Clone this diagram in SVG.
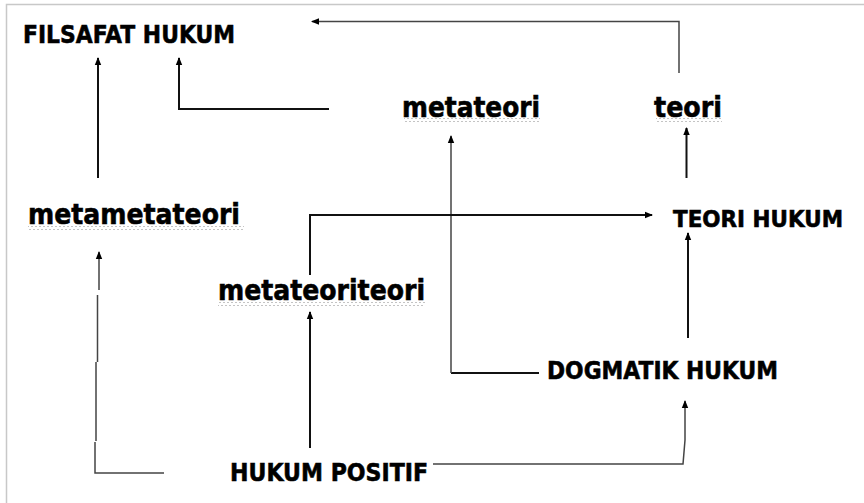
<svg xmlns="http://www.w3.org/2000/svg" width="864" height="503" viewBox="0 0 864 503">
<style>
.lbl{font-family:"DejaVu Sans","Liberation Sans",sans-serif;font-weight:bold;fill:#000;stroke:#000;stroke-width:0.6}
.cap{font-size:25px}
.low{font-size:28px}
.conn{fill:none;stroke:#111;stroke-width:2}
.thin{fill:none;stroke:#444;stroke-width:1.5}
</style>
<defs>
<marker id="ah" viewBox="0 0 8 8" refX="7" refY="4" markerWidth="8" markerHeight="8" markerUnits="userSpaceOnUse" orient="auto">
<path d="M0,0.8 L8,4 L0,7.2 Z" fill="#000"/>
</marker>
<pattern id="sq" width="4" height="4" patternUnits="userSpaceOnUse">
<path d="M0,3 L2,1 L4,3" fill="none" stroke="#aaa" stroke-width="0.7"/>
</pattern>
</defs>
<rect width="864" height="503" fill="#fff"/>
<path d="M6.5,503 V4.5 H864" fill="none" stroke="#c8c8c8" stroke-width="1.5"/>

<g id="connectors">
<path class="thin" d="M679,73 V21.5 H312" marker-end="url(#ah)"/>
<path class="conn" d="M329,109 H179 V58" marker-end="url(#ah)"/>
<path class="conn" d="M98,178 V58" marker-end="url(#ah)"/>
<path class="conn" d="M451,373 H539"/>
<path class="thin" d="M451,373 V136" marker-end="url(#ah)"/>
<path class="conn" d="M686.5,178 V128" marker-end="url(#ah)"/>
<path class="conn" d="M688,338 V233" marker-end="url(#ah)"/>
<path class="conn" d="M310,275 V215 H652" marker-end="url(#ah)"/>
<path class="conn" d="M310,448 V312" marker-end="url(#ah)"/>
<path class="thin" d="M433,464 H683 L685,440 V401" marker-end="url(#ah)"/>
<path class="thin" d="M164,473 H95 V442 M96,441 V362 M97.5,362 V295 M99,290 V252" marker-end="url(#ah)"/>
</g>

<g id="filsafat-hukum"><text class="lbl cap" x="23" y="43" textLength="212" lengthAdjust="spacingAndGlyphs">FILSAFAT HUKUM</text></g>
<g id="metateori"><text class="lbl low" x="402" y="117" textLength="138" lengthAdjust="spacingAndGlyphs">metateori</text><rect x="404" y="118" width="136" height="4" fill="url(#sq)"/></g>
<g id="teori"><text class="lbl low" x="654" y="117" textLength="68" lengthAdjust="spacingAndGlyphs">teori</text><rect x="656" y="118" width="66" height="4" fill="url(#sq)"/></g>
<g id="metametateori"><text class="lbl low" x="28" y="224" textLength="212" lengthAdjust="spacingAndGlyphs">metametateori</text><rect x="28" y="226" width="216" height="4" fill="url(#sq)"/></g>
<g id="teori-hukum"><text class="lbl" style="font-size:23px" x="673" y="227" textLength="170" lengthAdjust="spacingAndGlyphs">TEORI HUKUM</text></g>
<g id="metateoriteori"><text class="lbl low" x="218" y="300" textLength="207" lengthAdjust="spacingAndGlyphs">metateoriteori</text><rect x="218" y="302" width="207" height="4" fill="url(#sq)"/></g>
<g id="dogmatik-hukum"><text class="lbl cap" x="547" y="379" textLength="231" lengthAdjust="spacingAndGlyphs">DOGMATIK HUKUM</text></g>
<g id="hukum-positif"><text class="lbl cap" x="230" y="481" textLength="198" lengthAdjust="spacingAndGlyphs">HUKUM POSITIF</text></g>
</svg>
